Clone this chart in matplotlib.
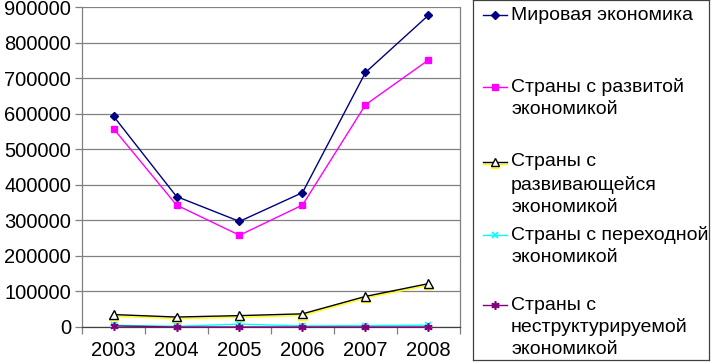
import matplotlib
matplotlib.use("Agg")
import matplotlib.pyplot as plt
import matplotlib.patheffects as pe
from matplotlib.ticker import MultipleLocator, FuncFormatter

plt.rcParams['font.family'] = ['Liberation Sans', 'DejaVu Sans']

# data (values per year)
years = ["2003", "2004", "2005", "2006", "2007", "2008"]
world = [593000, 367000, 297000, 378000, 716000, 877000]
developed = [558000, 343000, 258000, 343000, 625000, 751000]
developing = [35000, 28000, 32000, 37000, 86000, 122000]
transition = [5000, 2000, 8000, 3000, 4000, 5000]
unstructured = [3000, 0, 0, 0, 0, 0]

labels = [
    "Мировая экономика",
    "Страны с развитой\nэкономикой",
    "Страны с\nразвивающейся\nэкономикой",
    "Страны с переходной\nэкономикой",
    "Страны с\nнеструктурируемой\nэкономикой",
]

W, H = 711, 362
fig = plt.figure(figsize=(W / 100, H / 100), dpi=100)

# plot area in pixels: left 82, right 460, top 7, bottom 327
ax = fig.add_axes([82 / W, (H - 327) / H, 378 / W, 320 / H])

x = list(range(len(years)))
yellow_shadow = [pe.SimpleLineShadow(offset=(0, -1.2), shadow_color="#ffff00", alpha=1.0), pe.Normal()]

styles = [
    dict(color="#000080", marker="D", markersize=4.5, mfc="#000080", mec="#000080"),
    dict(color="#ff00ff", marker="s", markersize=5, mfc="#ff00ff", mec="#ff00ff"),
    dict(color="#000000", marker="^", markersize=6, mfc="white", mec="black", mew=1.0,
         path_effects=yellow_shadow),
    dict(color="#00ffff", marker="x", markersize=5, mec="#00ffff", mew=1.2),
    dict(color="#800080", marker=(6, 2, 0), markersize=6, mec="#800080", mew=1.2),
]
series = [world, developed, developing, transition, unstructured]

for vals, st in zip(series, styles):
    ax.plot(x, vals, linewidth=1.0, zorder=3, clip_on=False, **st)

ax.set_xlim(-0.5, len(years) - 0.5)
ax.set_ylim(0, 900000)
ax.yaxis.set_major_locator(MultipleLocator(100000))
ax.yaxis.set_major_formatter(FuncFormatter(lambda v, p: f"{int(v)}"))
ax.grid(axis="y", color="#808080", linewidth=0.9, zorder=0)
ax.set_axisbelow(True)

ax.set_xticks(x)
ax.set_xticklabels(years)
ax.set_xticks([i - 0.5 for i in range(len(years) + 1)], minor=True)
ax.tick_params(axis="x", which="major", length=0, pad=10, labelsize=14.5)
ax.tick_params(axis="x", which="minor", length=5, width=0.9, color="#808080", direction="out")
ax.tick_params(axis="y", length=5, width=0.9, color="#808080", pad=3, labelsize=14.5)

for side in ["left", "bottom", "right"]:
    ax.spines[side].set_color("#808080")
    ax.spines[side].set_linewidth(0.9)
ax.spines["top"].set_visible(False)
ax.spines["bottom"].set_color("#404040")

# legend box: x 473..709, y 0..360 (pixels)
lx0, lx1, ly0, ly1 = 473, 709, 0, 360
lax = fig.add_axes([lx0 / W, (H - ly1) / H, (lx1 - lx0) / W, (ly1 - ly0) / H])
lax.set_xlim(0, lx1 - lx0)
lax.set_ylim(ly1 - ly0, 0)
lax.set_xticks([])
lax.set_yticks([])
for s in lax.spines.values():
    s.set_color("#404040")
    s.set_linewidth(0.9)

first_line_y = [15, 87, 162, 235, 305]
line_gap = 22.5
for lab, st, y0 in zip(labels, styles, first_line_y):
    lax.plot([10, 22, 34], [y0, y0, y0], linewidth=1.0, markevery=[1], **st)
    for k, part in enumerate(lab.split("\n")):
        lax.text(38, y0 + k * line_gap, part, fontsize=14, va="center", ha="left")

fig.savefig("out.png", dpi=100)
